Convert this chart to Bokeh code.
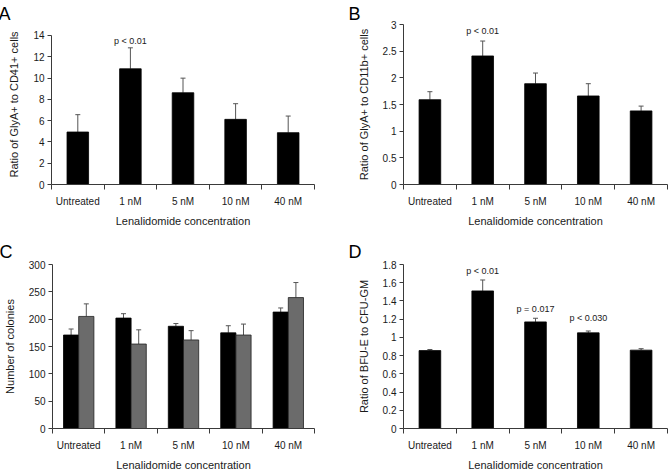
from bokeh.plotting import figure
from bokeh.layouts import row, column
from bokeh.models import (Range1d, FixedTicker, NumeralTickFormatter, Whisker,
                          TeeHead, ColumnDataSource)
from bokeh.embed import file_html
from bokeh.resources import INLINE
from bokeh.core.properties import value

# ---------------- data ----------------
categories = ["Untreated", "1 nM", "5 nM", "10 nM", "40 nM"]

a_ratio = [4.93, 10.87, 8.62, 6.12, 4.87]
a_err = [1.63, 1.97, 1.37, 1.47, 1.56]
a_yticks = [0, 2, 4, 6, 8, 10, 12, 14]

b_ratio = [1.59, 2.41, 1.89, 1.66, 1.38]
b_err = [0.15, 0.28, 0.20, 0.23, 0.09]
b_yticks = [0, 0.5, 1, 1.5, 2, 2.5, 3]

c_black = [171, 202, 187, 175, 213]
c_black_err = [11, 8, 5, 13, 7.5]
c_gray = [205, 154.5, 162, 171, 239.5]
c_gray_err = [23, 26, 17, 20, 27.5]
c_yticks = [0, 50, 100, 150, 200, 250, 300]

d_ratio = [0.855, 1.51, 1.17, 1.05, 0.86]
d_err = [0.012, 0.12, 0.04, 0.02, 0.016]
d_yticks = [0, 0.2, 0.4, 0.6, 0.8, 1, 1.2, 1.4, 1.6, 1.8]

a_pvals = {"1 nM": "p < 0.01"}
b_pvals = {"1 nM": "p < 0.01"}
d_pvals = {"1 nM": "p < 0.01", "5 nM": "p = 0.017", "10 nM": "p < 0.030"}

x_title = "Lenalidomide concentration"

# ---------------- style ----------------
FONT = "Liberation Sans"
TXT = "#1a1a1a"
AXC = "#3a3a3a"
ERRC = "#555555"


def make_fig(width, height, left, right, top, bottom, yaxis_max, yrange_max, yticks,
             ytitle, fmt, letter, l_offset, l_standoff, xtitle_standoff=5):
    n = len(categories)
    p = figure(width=width, height=height, x_range=Range1d(0, n),
               y_range=Range1d(0, yrange_max),
               output_backend="svg", toolbar_location=None,
               min_border_left=left, min_border_right=right,
               min_border_top=top, min_border_bottom=bottom)
    p.outline_line_color = None
    p.grid.visible = False
    p.background_fill_color = "white"
    p.border_fill_color = "white"

    p.title.text = letter
    p.title.text_font = FONT
    p.title.text_font_size = "18px"
    p.title.text_font_style = "normal"
    p.title.text_color = "black"
    p.title.align = "left"
    p.title.offset = l_offset
    p.title.standoff = l_standoff

    centers = [i + 0.5 for i in range(n)]
    xa = p.xaxis[0]
    xa.ticker = FixedTicker(ticks=centers, minor_ticks=list(range(n + 1)))
    xa.major_label_overrides = {c: lab for c, lab in zip(centers, categories)}
    xa.major_tick_line_color = None
    xa.major_tick_out = 0
    xa.major_tick_in = 0
    xa.minor_tick_out = 5
    xa.minor_tick_in = 0
    xa.minor_tick_line_color = AXC
    xa.axis_line_color = AXC
    xa.major_label_standoff = 6
    xa.major_label_text_font = FONT
    xa.major_label_text_font_size = "10px"
    xa.major_label_text_color = TXT
    xa.axis_label = x_title
    xa.axis_label_text_font = FONT
    xa.axis_label_text_font_size = "11px"
    xa.axis_label_text_font_style = "normal"
    xa.axis_label_text_color = TXT
    xa.axis_label_standoff = xtitle_standoff

    ya = p.yaxis[0]
    ya.bounds = (0, yaxis_max)
    ya.ticker = FixedTicker(ticks=yticks)
    ya.formatter = NumeralTickFormatter(format=fmt)
    ya.major_tick_out = 4
    ya.major_tick_in = 0
    ya.minor_tick_line_color = None
    ya.axis_line_color = AXC
    ya.major_tick_line_color = AXC
    ya.major_label_standoff = 3
    ya.major_label_text_font = FONT
    ya.major_label_text_font_size = "10px"
    ya.major_label_text_color = TXT
    ya.axis_label = ytitle
    ya.axis_label_text_font = FONT
    ya.axis_label_text_font_size = "11px"
    ya.axis_label_text_font_style = "normal"
    ya.axis_label_text_color = TXT
    ya.axis_label_standoff = 10
    return p


def add_bars(p, xs, vals, errs, color, width):
    src = ColumnDataSource(dict(x=xs, top=vals, upper=[v + e for v, e in zip(vals, errs)]))
    w = Whisker(source=src, base="x", upper="upper", lower="top", dimension="height",
                line_color=ERRC, line_width=1, lower_head=None,
                upper_head=TeeHead(size=5, line_color=ERRC, line_width=1))
    p.add_layout(w)
    p.vbar(x="x", top="top", width=width, bottom=0, source=src,
           fill_color=color, line_color="#222222" if color != "black" else "black",
           line_width=0.8)
    return src


def add_pvals(p, vals, errs, pvals, offsets):
    xs, ys, ts = [], [], []
    for i, c in enumerate(categories):
        if c in pvals:
            xs.append(i + 0.5)
            ys.append(vals[i] + errs[i])
            ts.append(pvals[c])
    src = ColumnDataSource(dict(x=xs, y=ys, t=ts, off=offsets))
    p.text(x="x", y="y", text="t", y_offset="off", source=src, text_align="center",
           text_baseline="bottom", text_font=value(FONT), text_font_size="9px",
           text_color=TXT)


centers = [i + 0.5 for i in range(len(categories))]

# Panel A (frame top shared with B; axis drawn only up to 14)
pa = make_fig(334, 236, 51, 20, 24, 52, 14, 15.03, a_yticks,
              "Ratio of GlyA+ to CD41+ cells", "0", "A", -53, 1)
add_bars(pa, centers, a_ratio, a_err, "black", 0.41)
add_pvals(pa, a_ratio, a_err, a_pvals, [-2])

# Panel B
pb = make_fig(335, 236, 69, 2, 24, 52, 3, 3, b_yticks,
              "Ratio of GlyA+ to CD11b+ cells", "0.[0]", "B", -55, 1)
add_bars(pb, centers, b_ratio, b_err, "black", 0.41)
add_pvals(pb, b_ratio, b_err, b_pvals, [-5])

# Panel C
pc = make_fig(334, 237, 51, 20, 28, 44, 300, 300, c_yticks,
              "Number of colonies", "0", "C", -53, 5, xtitle_standoff=5)
add_bars(pc, [c - 0.145 for c in centers], c_black, c_black_err, "black", 0.29)
add_bars(pc, [c + 0.145 for c in centers], c_gray, c_gray_err, "#6b6b6b", 0.29)

# Panel D
pd_ = make_fig(335, 237, 69, 2, 28, 44, 1.8, 1.8, d_yticks,
               "Ratio of BFU-E to CFU-GM", "0.[0]", "D", -55, 5, xtitle_standoff=5)
add_bars(pd_, centers, d_ratio, d_err, "black", 0.41)
add_pvals(pd_, d_ratio, d_err, d_pvals, [-4, -4, -8])

layout = column(row(pa, pb), row(pc, pd_))

open("out.html", "w").write(file_html(layout, INLINE))
